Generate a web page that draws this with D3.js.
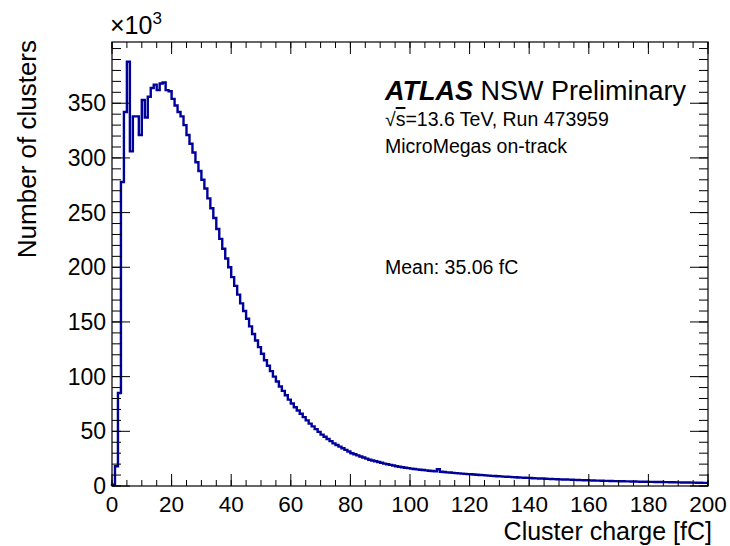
<!DOCTYPE html>
<html>
<head>
<meta charset="utf-8">
<script src="https://cdn.jsdelivr.net/npm/d3@7"></script>
<style>
  body { margin: 0; background: #fff; }
  text { font-family: "Liberation Sans", Arial, Helvetica, sans-serif; fill: #000; }
</style>
</head>
<body>
<div id="chart"></div>
<script>
// cluster charge histogram, 1 fC bins from 0 to 200, counts in thousands
const binLow = 0;
const binWidth = 1;
const counts = [
  1.2, 18, 85, 278, 342, 388, 306, 338, 338, 321,
  353, 337, 356, 364, 367, 362, 368, 369, 362, 361,
  354, 348, 342, 338, 330, 321, 313, 305, 296, 288,
  280, 272, 263, 254, 245, 235, 226, 217, 208, 200,
  191, 183, 175, 167, 160, 153, 146, 139, 133, 127,
  121, 115, 110, 105, 100, 95.5, 91, 87, 83, 79,
  75.5, 72, 69, 66, 63, 60, 57, 54.5, 52, 49.5,
  47, 45, 43, 41, 39, 37.5, 36, 34.5, 33, 31.5,
  30, 29, 28, 27, 26, 25, 24, 23.3, 22.6, 21.9,
  21.2, 20.5, 19.9, 19.3, 18.7, 18.1, 17.6, 17.1, 16.7, 16.3,
  15.9, 15.5, 15.2, 14.9, 14.6, 14.3, 14.0, 13.7, 13.4, 15.3,
  13.0, 12.8, 12.5, 12.3, 12.0, 11.8, 11.5, 11.3, 11.1, 10.9,
  10.7, 10.5, 10.3, 10.1, 9.9, 9.7, 9.5, 9.3, 9.1, 8.9,
  8.8, 8.6, 8.4, 8.3, 8.1, 8.0, 7.8, 7.7, 7.5, 7.4,
  7.3, 7.1, 7.0, 6.9, 6.8, 6.6, 6.5, 6.4, 6.3, 6.2,
  6.1, 6.0, 5.9, 5.8, 5.7, 5.6, 5.5, 5.4, 5.3, 5.2,
  5.1, 5.0, 4.95, 4.9, 4.8, 4.7, 4.65, 4.6, 4.5, 4.45,
  4.4, 4.3, 4.25, 4.2, 4.1, 4.05, 4.0, 3.95, 3.9, 3.85,
  3.8, 3.75, 3.7, 3.65, 3.6, 3.55, 3.5, 3.45, 3.4, 3.35,
  3.3, 3.25, 3.2, 3.15, 3.1, 3.05, 3.0, 2.95, 2.9, 2.9
];
const xTicks = [0, 20, 40, 60, 80, 100, 120, 140, 160, 180, 200];
const yTicks = [0, 50, 100, 150, 200, 250, 300, 350];
const xDomain = [0, 200];
const yDomain = [0, 406];
const labelLines = ['√s=13.6 TeV, Run 473959', 'MicroMegas on-track'];
const meanLabel = 'Mean: 35.06 fC';

const width = 730;
const height = 546;
const leftMargin = 112;
const rightMargin = 22;
const topMargin = 42;
const bottomMargin = 60;
const lineColor = '#00009a';

const svg = d3.select('#chart').append('svg').attr('width', width).attr('height', height);

const xScale = d3.scaleLinear().domain(xDomain).range([leftMargin, width - rightMargin]);
const yScale = d3.scaleLinear().domain(yDomain).range([height - bottomMargin, topMargin]);

// histogram outline as steps, starting on the baseline
const pts = [[binLow, 0]];
counts.forEach((c, i) => pts.push([binLow + i * binWidth, c]));
pts.push([binLow + counts.length * binWidth, counts[counts.length - 1]]);

const step = d3.line().x(d => xScale(d[0])).y(d => yScale(d[1])).curve(d3.curveStepAfter);

const plot = svg.append('g');
plot.append('path').attr('d', step(pts)).attr('fill', 'none').attr('stroke', lineColor).attr('stroke-width', 2.4).attr('stroke-linejoin', 'miter');

// axes with ROOT style ticks (inside, mirrored)
const xMinor = d3.range(0, 201, 5);
const yMinor = d3.range(0, 406, 10);

function xAxis(g, pos, dir) {
    g.selectAll('.mn').data(xMinor).enter().append('line')
        .attr('x1', d => xScale(d)).attr('x2', d => xScale(d))
        .attr('y1', pos).attr('y2', pos + dir * 6).attr('stroke', '#000');
    g.selectAll('.mj').data(xTicks).enter().append('line')
        .attr('x1', d => xScale(d)).attr('x2', d => xScale(d))
        .attr('y1', pos).attr('y2', pos + dir * 12).attr('stroke', '#000');
}
function yAxis(g, pos, dir) {
    g.selectAll('.mn').data(yMinor).enter().append('line')
        .attr('y1', d => yScale(d)).attr('y2', d => yScale(d))
        .attr('x1', pos).attr('x2', pos + dir * 9).attr('stroke', '#000');
    g.selectAll('.mj').data(yTicks).enter().append('line')
        .attr('y1', d => yScale(d)).attr('y2', d => yScale(d))
        .attr('x1', pos).attr('x2', pos + dir * 18).attr('stroke', '#000');
}
svg.append('g').call(xAxis, yScale(0), -1);
svg.append('g').call(xAxis, yScale(yDomain[1]), 1);
svg.append('g').call(yAxis, xScale(0), 1);
svg.append('g').call(yAxis, xScale(xDomain[1]), -1);

svg.append('rect').attr('x', xScale(0)).attr('y', yScale(yDomain[1]))
    .attr('width', xScale(xDomain[1]) - xScale(0)).attr('height', yScale(0) - yScale(yDomain[1]))
    .attr('fill', 'none').attr('stroke', '#000').attr('stroke-width', 1.2);

// tick labels
svg.append('g').selectAll('text').data(xTicks).enter().append('text')
    .attr('x', d => xScale(d)).attr('y', yScale(0) + 26)
    .attr('text-anchor', 'middle').attr('font-size', 22.5).text(d => d);
svg.append('g').selectAll('text').data(yTicks).enter().append('text')
    .attr('x', xScale(0) - 6).attr('y', d => yScale(d) + 8)
    .attr('text-anchor', 'end').attr('font-size', 23).text(d => d);

// x10^3 multiplier
const mult = svg.append('text').attr('x', 110).attr('y', 34).attr('font-size', 25);
mult.append('tspan').text('×10');
mult.append('tspan').attr('font-size', 17).attr('dy', -10).text('3');

// axis titles
svg.append('text').attr('x', 712).attr('y', 540).attr('text-anchor', 'end').attr('font-size', 25).text('Cluster charge [fC]');
svg.append('text').attr('transform', `translate(36, ${topMargin - 2}) rotate(-90)`).attr('text-anchor', 'end').attr('font-size', 26).text('Number of clusters');

// labels
const atlas = svg.append('text').attr('x', 385).attr('y', 100).attr('font-size', 27);
atlas.append('tspan').attr('font-weight', 'bold').attr('font-style', 'italic').text('ATLAS');
atlas.append('tspan').text(' NSW Preliminary');

const sq = svg.append('text').attr('x', 385).attr('y', 126).attr('font-size', 19.5);
sq.append('tspan').text('√');
sq.append('tspan').attr('text-decoration', 'overline').text('s');
sq.append('tspan').text(labelLines[0].slice(2));
svg.append('text').attr('x', 385).attr('y', 153).attr('font-size', 19.5).text(labelLines[1]);
svg.append('text').attr('x', 385).attr('y', 274).attr('font-size', 19.5).text(meanLabel);
</script>
</body>
</html>
